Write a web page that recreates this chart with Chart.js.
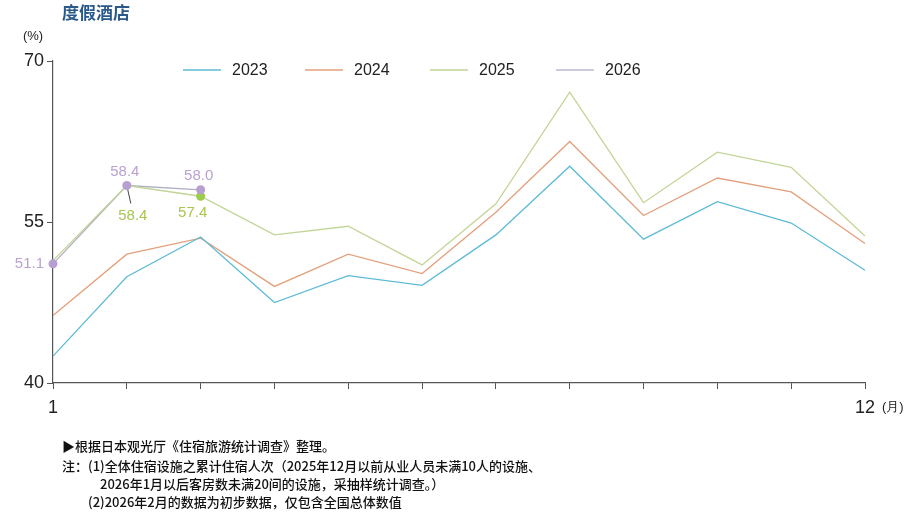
<!DOCTYPE html>
<html>
<head>
<meta charset="utf-8">
<script src="https://cdn.jsdelivr.net/npm/chart.js@4.4.1/dist/chart.umd.min.js"></script>
<style>
  html, body { margin: 0; padding: 0; background: #fff; }
  #wrap { position: relative; width: 911px; height: 519px; overflow: hidden; }
  canvas { position: absolute; left: 0; top: 0; }
  .title { position: absolute; left: 62px; top: 1px; font-family: "Noto Sans CJK SC", sans-serif; font-weight: 700; font-size: 17px; color: #2b5a8a; line-height: 22px; }
  .note { position: absolute; font-family: "Noto Sans CJK SC", sans-serif; font-weight: 500; font-size: 13px; color: #111; line-height: 16px; white-space: nowrap; }
</style>
</head>
<body>
<div id="wrap">
  <canvas id="c" width="911" height="519"></canvas>
  <div class="title">度假酒店</div>
  <div class="note" style="left:62px; top:438px;">▶根据日本观光厅《住宿旅游统计调查》整理。</div>
  <div class="note" style="left:62px; top:458px;">注：(1)全体住宿设施之累计住宿人次（2025年12月以前从业人员未满10人的设施、</div>
  <div class="note" style="left:100px; top:476px;">2026年1月以后客房数未满20间的设施，采抽样统计调查。）</div>
  <div class="note" style="left:88px; top:494px;">(2)2026年2月的数据为初步数据，仅包含全国总体数值</div>
</div>
<script>
const months = ['1','2','3','4','5','6','7','8','9','10','11','12'];
const seriesNames = ['2023','2024','2025','2026'];
const v2023 = [42.5, 49.9, 53.6, 47.5, 50.0, 49.1, 53.8, 60.2, 53.4, 56.9, 54.9, 50.5];
const v2024 = [46.3, 52.0, 53.5, 49.0, 52.0, 50.2, 55.9, 62.5, 55.6, 59.1, 57.8, 53.0];
const v2025 = [51.4, 58.4, 57.4, 53.8, 54.6, 51.0, 56.7, 67.1, 56.8, 61.5, 60.1, 53.7];
const v2026 = [51.1, 58.4, 58.0, null, null, null, null, null, null, null, null, null];
const yTicks = [40, 55, 70];

const colors = ['#5dbbd5', '#e2a07c', '#c2d596', '#bdb8d4'];
const numFont = '"Liberation Sans Narrow", "Liberation Sans", Arial, sans-serif';
const txtFont = '"Liberation Sans", Arial, sans-serif';

const extras = {
  id: 'extras',
  afterDatasetsDraw(chart) {
    const ctx = chart.ctx;
    const m25 = chart.getDatasetMeta(2).data;
    const m26 = chart.getDatasetMeta(3).data;
    ctx.save();
    ctx.strokeStyle = '#444';
    ctx.lineWidth = 1;
    ctx.beginPath();
    ctx.moveTo(m25[1].x, m25[1].y);
    ctx.lineTo(m25[1].x + 4, m25[1].y + 18);
    ctx.stroke();
    ctx.fillStyle = '#9ccc4e';
    ctx.beginPath(); ctx.arc(m25[2].x, m25[2].y, 4.5, 0, Math.PI * 2); ctx.fill();
    ctx.fillStyle = '#b6a0d2';
    [0, 1, 2].forEach(i => { ctx.beginPath(); ctx.arc(m26[i].x, m26[i].y, 4.5, 0, Math.PI * 2); ctx.fill(); });
    ctx.font = '15px ' + txtFont;
    ctx.textBaseline = 'middle';
    ctx.fillStyle = '#b8a2d0';
    ctx.textAlign = 'right';
    ctx.fillText(v2026[0].toFixed(1), m26[0].x - 9, m26[0].y);
    ctx.textAlign = 'center';
    ctx.fillText(v2026[1].toFixed(1), m26[1].x - 2, m26[1].y - 14);
    ctx.fillText(v2026[2].toFixed(1), m26[2].x - 2, m26[2].y - 14);
    ctx.fillStyle = '#a8c553';
    ctx.fillText(v2025[1].toFixed(1), m25[1].x + 6, m25[1].y + 30);
    ctx.fillText(v2025[2].toFixed(1), m25[2].x - 8, m25[2].y + 17);
    ctx.fillStyle = '#222';
    ctx.font = '13px ' + txtFont;
    ctx.textAlign = 'center';
    ctx.fillText('(%)', 33, 36);
    ctx.textAlign = 'left';
    ctx.fillText('(月)', 882, 407);
    const lx = [183, 305, 430, 556];
    ctx.font = '16px ' + txtFont;
    ctx.textBaseline = 'middle';
    seriesNames.forEach((n, i) => {
      ctx.strokeStyle = colors[i];
      ctx.lineWidth = 1.3;
      ctx.beginPath(); ctx.moveTo(lx[i], 70); ctx.lineTo(lx[i] + 38, 70); ctx.stroke();
      ctx.fillStyle = '#222';
      ctx.fillText(n, lx[i] + 49, 71);
    });
    ctx.restore();
  }
};

const mk = (label, data, color) => ({
  label, data, borderColor: color, backgroundColor: color,
  borderWidth: 1.3, pointRadius: 0, tension: 0, spanGaps: false
});

new Chart(document.getElementById('c'), {
  type: 'line',
  data: {
    labels: months,
    datasets: [
      mk('2023', v2023, colors[0]),
      mk('2024', v2024, colors[1]),
      mk('2025', v2025, colors[2]),
      mk('2026', v2026, '#b0aec4')
    ]
  },
  options: {
    responsive: false,
    animation: false,
    devicePixelRatio: 1,
    layout: { padding: { top: 61, left: 0, right: 46, bottom: 0 } },
    plugins: { legend: { display: false }, title: { display: false }, tooltip: { enabled: false } },
    scales: {
      x: {
        offset: false,
        afterFit(s) { s.height = 136; },
        grid: { display: true, drawOnChartArea: false, drawTicks: true, tickLength: 6, color: '#555', lineWidth: 1 },
        border: { display: true, color: '#555', width: 1.2 },
        ticks: {
          color: '#222', font: { family: numFont, size: 18 }, padding: 8, maxRotation: 0, autoSkip: false,
          callback(v, i) { return (i === 0 || i === months.length - 1) ? months[i] : ''; }
        }
      },
      y: {
        min: yTicks[0], max: yTicks[yTicks.length - 1],
        afterFit(s) { s.width = 53; },
        afterBuildTicks(s) { s.ticks = yTicks.map(v => ({ value: v })); },
        grid: { display: true, drawOnChartArea: false, drawTicks: true, tickLength: 6, color: '#555', lineWidth: 1 },
        border: { display: true, color: '#555', width: 1.2 },
        ticks: { color: '#222', font: { family: numFont, size: 18 }, padding: 3 }
      }
    }
  },
  plugins: [extras]
});
</script>
</body>
</html>
